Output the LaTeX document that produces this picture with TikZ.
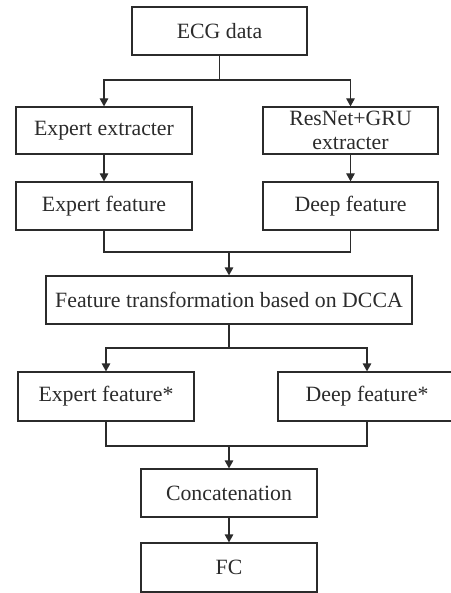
\documentclass[tikz,border=0pt]{standalone}
\usepackage{fontspec}
\setmainfont{Liberation Serif}
\usetikzlibrary{arrows.meta,calc}
\definecolor{ink}{HTML}{2B2B2B}
\begin{document}
\begin{tikzpicture}[x=1pt,y=-1pt,
  box/.style={draw=ink,line width=1.2pt,rectangle,inner sep=0pt,
    text=ink,font=\fontsize{21.8}{24}\selectfont,align=center},
  flow/.style={draw=ink,line width=1.2pt,-{Triangle[length=8pt,width=8.5pt]}},
  link/.style={draw=ink,line width=1.2pt}]
\useasboundingbox (0,0) rectangle (450,593);
% boxes
\node[box,minimum width=175pt,minimum height=48pt] (ecg) at (219.5,31) {ECG data};
\node[box,minimum width=176pt,minimum height=47pt] (eext) at (104,130.5) {Expert extracter};
\node[box,minimum width=175pt,minimum height=47pt] (dext) at (350.5,130.5) {ResNet+GRU\\extracter};
\node[box,minimum width=176pt,minimum height=48pt] (efeat) at (104,206) {Expert feature};
\node[box,minimum width=175pt,minimum height=48pt] (dfeat) at (350.5,206) {Deep feature};
\node[box,minimum width=366pt,minimum height=48pt] (dcca) at (229,300) {Feature transformation based on DCCA};
\node[box,minimum width=176pt,minimum height=49pt] (efs) at (106,396.5) {Expert feature*};
\node[box,minimum width=178pt,minimum height=49pt] (dfs) at (367,396.5) {Deep feature*};
\node[box,minimum width=176pt,minimum height=48pt] (cat) at (229,493) {Concatenation};
\node[box,minimum width=176pt,minimum height=49pt] (fc) at (229,567.5) {FC};
% junction points
\coordinate (s1) at (219.5,80);
\coordinate (m1) at (229,252);
\coordinate (s2) at (229,348);
\coordinate (m2) at (229,446);
% connectors
\draw[link] (ecg.south) -- (s1);
\draw[flow] (s1) -| (eext.north);
\draw[flow] (s1) -| (dext.north);
\draw[flow] (eext) -- (efeat);
\draw[flow] (dext) -- (dfeat);
\draw[link] (efeat.south) |- (m1);
\draw[link] (dfeat.south) |- (m1);
\draw[flow] (m1) -- (dcca.north);
\draw[link] (dcca.south) -- (s2);
\draw[flow] (s2) -| (efs.north);
\draw[flow] (s2) -| (dfs.north);
\draw[link] (efs.south) |- (m2);
\draw[link] (dfs.south) |- (m2);
\draw[flow] (m2) -- (cat.north);
\draw[flow] (cat) -- (fc);
\end{tikzpicture}
\end{document}
